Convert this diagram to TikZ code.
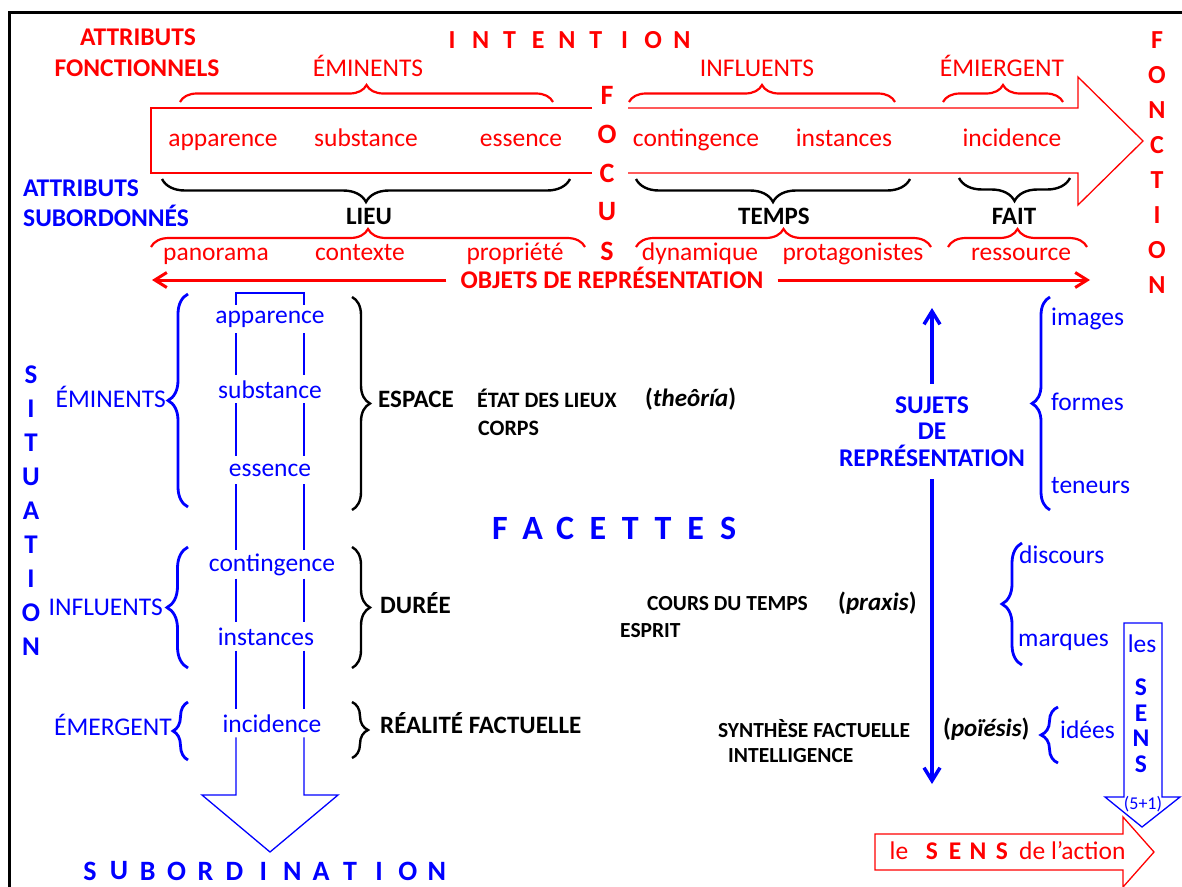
\documentclass[tikz,border=0pt]{standalone}
\usepackage{fontspec}
\setmainfont{Carlito}
\usetikzlibrary{decorations.pathreplacing,arrows.meta}
\definecolor{rd}{RGB}{255,0,0}
\definecolor{bl}{RGB}{0,0,255}
\newcommand\myfs[1]{\fontsize{#1}{#1}\selectfont}
\begin{document}
\begin{tikzpicture}[x=1pt,y=-1pt,
 tx/.style={inner sep=0pt, font={\myfs{25.5}}},
 rt/.style={tx, text=rd},
 rb/.style={tx, text=rd, font={\myfs{25.5}\bfseries}},
 bt/.style={tx, text=bl},
 bb/.style={tx, text=bl, font={\myfs{25.5}\bfseries}},
 kb/.style={tx, text=black, font={\myfs{25}\bfseries}},
 km/.style={tx, text=black, font={\myfs{22}\bfseries}},
 ks/.style={tx, text=black, font={\myfs{21.5}\bfseries}},
 wfill/.style={inner xsep=3pt, inner ysep=0pt, minimum height=28pt},
 rbr/.style={rd, line width=2.2pt, decorate, decoration={brace, amplitude=#1, aspect=0.5}},
 kbr/.style={black, line width=2.4pt, decorate, decoration={brace, amplitude=#1, aspect=0.5}},
 bbr/.style={bl, line width=2.8pt, decorate, decoration={brace, amplitude=#1, aspect=0.5}},
 blk/.style={line width=1.3pt, line join=miter}
]
\useasboundingbox (0,0) rectangle (1182,886);
% frame
\draw[line width=2.6pt] (9.5,890) -- (9.5,12.5) -- (1190,12.5);

% ---------- top: intention ----------
\node[rb, anchor=base] (af1) at (138,45) {ATTRIBUTS};
\node[rb, anchor=base] (af2) at (137,76) {FONCTIONNELS};
\foreach \c [count=\i from 0] in {I,N,T,E,N,T,I,O,N}
  \node[rb, font={\myfs{26}\bfseries}] (int\i) at ({452+28.75*\i},40) {\c};
\node[rt, anchor=base] (emi) at (368,76) {ÉMINENTS};
\node[rt, anchor=base] (inf) at (757,76) {INFLUENTS};
\node[rt, anchor=base] (emg) at (1002,76) {ÉMIERGENT};

\draw[rbr=17pt] (180,102) -- (553,102);
\draw[rbr=17pt] (629,102) -- (895,102);
\draw[rbr=17pt] (943,102) -- (1063,102);

% big red arrow
\draw[rd, blk] (592,108) -- (151,108) -- (151,173) -- (592,173);
\draw[rd, blk] (628,108) -- (1078,108) -- (1078,77) -- (1143,141) -- (1078,205) -- (1078,173) -- (628,173);

\node[rt, anchor=base] (a1) at (223,146) {apparence};
\node[rt, anchor=base] (a2) at (366,146) {substance};
\node[rt, anchor=base] (a3) at (521,146) {essence};
\node[rt, anchor=base] (a4) at (696,146) {contingence};
\node[rt, anchor=base] (a5) at (844,146) {instances};
\node[rt, anchor=base] (a6) at (1012,146) {incidence};

\foreach \c/\y [count=\i] in {F/95,O/134,C/173,U/212,S/251}
  \node[rb, font={\myfs{28}\bfseries}] (foc\i) at (607,\y) {\c};

\foreach \c [count=\i from 0] in {F,O,N,C,T,I,O,N}
  \node[rb, font={\myfs{26}\bfseries}] (fon\i) at (1157,{40+35*\i}) {\c};

% black braces
\draw[kbr=23pt] (570,179) -- (162,179);
\draw[kbr=23pt] (910,179) -- (636,179);
\draw[kbr=23pt] (1070,178) -- (959,178);
\node[kb, anchor=base] (lieu) at (369,224) {LIEU};
\node[kb, anchor=base] (temps) at (774,224) {TEMPS};
\node[kb, anchor=base] (fait) at (1014,224) {FAIT};

\node[bb, anchor=base west] (as1) at (23,196) {ATTRIBUTS};
\node[bb, anchor=base west] (as2) at (23,226) {SUBORDONNÉS};

% red lower braces
\draw[rbr=18pt] (151,247) -- (585,247);
\draw[rbr=18pt] (636,247) -- (931,247);
\draw[rbr=18pt] (948,247) -- (1087,247);

\node[rt, anchor=base] (b1) at (216,260) {panorama};
\node[rt, anchor=base] (b2) at (360,260) {contexte};
\node[rt, anchor=base] (b3) at (515,260) {propriété};
\node[rt, anchor=base] (b4) at (700,260) {dynamique};
\node[rt, anchor=base] (b5) at (853,260) {protagonistes};
\node[rt, anchor=base] (b6) at (1021,260) {ressource};

% objets arrow
\node[rb, inner xsep=14pt, inner ysep=2pt, anchor=base] (obj) at (612,288) {OBJETS DE REPRÉSENTATION};
\coordinate (objL) at (152,280);
\coordinate (objR) at (1090,280);
\draw[rd, line width=3pt, -{Straight Barb[length=12pt,width=15pt]}] (obj.west |- objL) -- (objL);
\draw[rd, line width=3pt, -{Straight Barb[length=12pt,width=15pt]}] (obj.east |- objR) -- (objR);

% ---------- left: situation ----------
\foreach \c [count=\i from 0] in {S,I,T,U,A,T,I,O,N}
  \node[bb, font={\myfs{27}\bfseries}] (sit\i) at (31,{375+34*\i}) {\c};

% subordination block arrow, its shaft broken by the words
\node[bt, wfill, anchor=base] (s1) at (270,323) {apparence};
\node[bt, wfill, anchor=base] (s2) at (270,398) {substance};
\node[bt, wfill, anchor=base] (s3) at (270,476) {essence};
\node[bt, wfill, anchor=base] (s4) at (272,571) {contingence};
\node[bt, wfill, anchor=base] (s5) at (266,645) {instances};
\node[bt, wfill, anchor=base] (s6) at (272,732) {incidence};
\coordinate (ls) at (236,0);
\coordinate (rs) at (304,0);
\draw[bl, blk] (ls |- s1.north) -- (236,293) -- (304,293) -- (rs |- s1.north);
\draw[bl, blk] (ls |- s6.south) -- (236,795) -- (202,795) -- (270,852) -- (338,795) -- (304,795) -- (rs |- s6.south);
\foreach \p/\q in {s1/s2,s2/s3,s3/s4,s4/s5,s5/s6} {
  \draw[bl, blk] (ls |- \p.south) -- (ls |- \q.north);
  \draw[bl, blk] (rs |- \p.south) -- (rs |- \q.north);
}

\draw[bbr=20pt] (188,507) -- (188,294);
\draw[bbr=21pt] (188,668) -- (188,547);
\draw[bbr=15pt] (188,760) -- (188,702);
\node[bt, anchor=base east] (l1) at (166,407) {ÉMINENTS};
\node[bt, anchor=base east] (l2) at (163,615) {INFLUENTS};
\node[bt, anchor=base east] (l3) at (172,735) {ÉMERGENT};

\draw[kbr=18pt] (352,297) -- (352,510);
\draw[kbr=18pt] (352,547) -- (352,668);
\draw[kbr=16pt] (352,702) -- (352,758);

\node[kb, anchor=base west] (esp) at (378,407) {ESPACE};
\node[km, anchor=base west] (etat) at (477,407) {ÉTAT DES LIEUX};
\node[km, anchor=base west] (corps) at (478,435) {CORPS};
\node[kb, anchor=base west] (theo) at (645,406) {(\textit{theôría})};
\node[kb, anchor=base west] (dur) at (380,613) {DURÉE};
\node[kb, anchor=base west] (real) at (380,733) {RÉALITÉ FACTUELLE};
\node[ks, anchor=base west] (cours) at (647,610) {COURS DU TEMPS};
\node[kb, anchor=base west] (prax) at (838,610) {(\textit{praxis})};
\node[ks, anchor=base west] (esprit) at (620,637) {ESPRIT};
\node[ks, anchor=base west] (synth) at (718,737) {SYNTHÈSE FACTUELLE};
\node[ks, anchor=base west] (intel) at (728,762) {INTELLIGENCE};
\node[kb, anchor=base west] (poie) at (943,736) {(\textit{poïésis})};

\foreach \c [count=\i from 0] in {F,A,C,E,T,T,E,S}
  \node[bb, font={\myfs{34}\bfseries}] (fac\i) at ({500+32.6*\i},528) {\c};
\foreach \c [count=\i from 0] in {S,U,B,O,R,D,I,N,A,T,I,O,N}
  \node[bb, font={\myfs{28}\bfseries}] (sub\i) at ({90+28.9*\i},871) {\c};

% ---------- right: sujets ----------
\node[bb, align=center, font={\fontsize{25.5}{26.5}\selectfont\bfseries}, minimum height=95pt, inner sep=0pt] (suj) at (932,431.5) {SUJETS\\DE\\REPRÉSENTATION};
\coordinate (sjT) at (932,308);
\coordinate (sjB) at (932,784);
\draw[bl, line width=3.5pt, -{Straight Barb[length=13pt,width=16pt]}] (suj.north) -- (sjT);
\draw[bl, line width=3.5pt, -{Straight Barb[length=13pt,width=16pt]}] (suj.south) -- (sjB);

\draw[bbr=18pt] (1050,510) -- (1050,297);
\draw[bbr=20pt] (1022,665) -- (1022,543);
\draw[bbr=17pt] (1058,763) -- (1058,707);
\node[bt, anchor=base west] (r1) at (1051,325) {images};
\node[bt, anchor=base west] (r2) at (1051,410) {formes};
\node[bt, anchor=base west] (r3) at (1051,493) {teneurs};
\node[bt, anchor=base west] (r4) at (1019,563) {discours};
\node[bt, anchor=base west] (r5) at (1018,646) {marques};
\node[bt, anchor=base west] (r6) at (1060,738) {idées};

% les SENS arrow
\draw[bl, blk] (1124,623) -- (1162,623) -- (1162,797) -- (1180,797) -- (1142,827) -- (1105,797) -- (1124,797) -- cycle;
\node[bt, anchor=base] (les) at (1142,652) {les};
\foreach \c/\y [count=\i] in {S/687,E/713,N/738,S/764}
  \node[bb] (sens\i) at (1141,\y) {\c};
\node[bt, font={\myfs{18}}] (cinq) at (1143,804) {(5+1)};

% le SENS de l'action
\draw[rd, blk] (875,834) -- (1123,834) -- (1123,817) -- (1154,852) -- (1123,887) -- (1123,870) -- (875,870) -- cycle;
\node[rt, anchor=base] (le) at (899,859) {le};
\foreach \c/\x [count=\i] in {S/932,E/955,N/978,S/1002}
  \node[rb, anchor=base] (rs\i) at (\x,859) {\c};
\node[rt, anchor=base west] (act) at (1019,859) {de l’action};
\end{tikzpicture}
\end{document}
